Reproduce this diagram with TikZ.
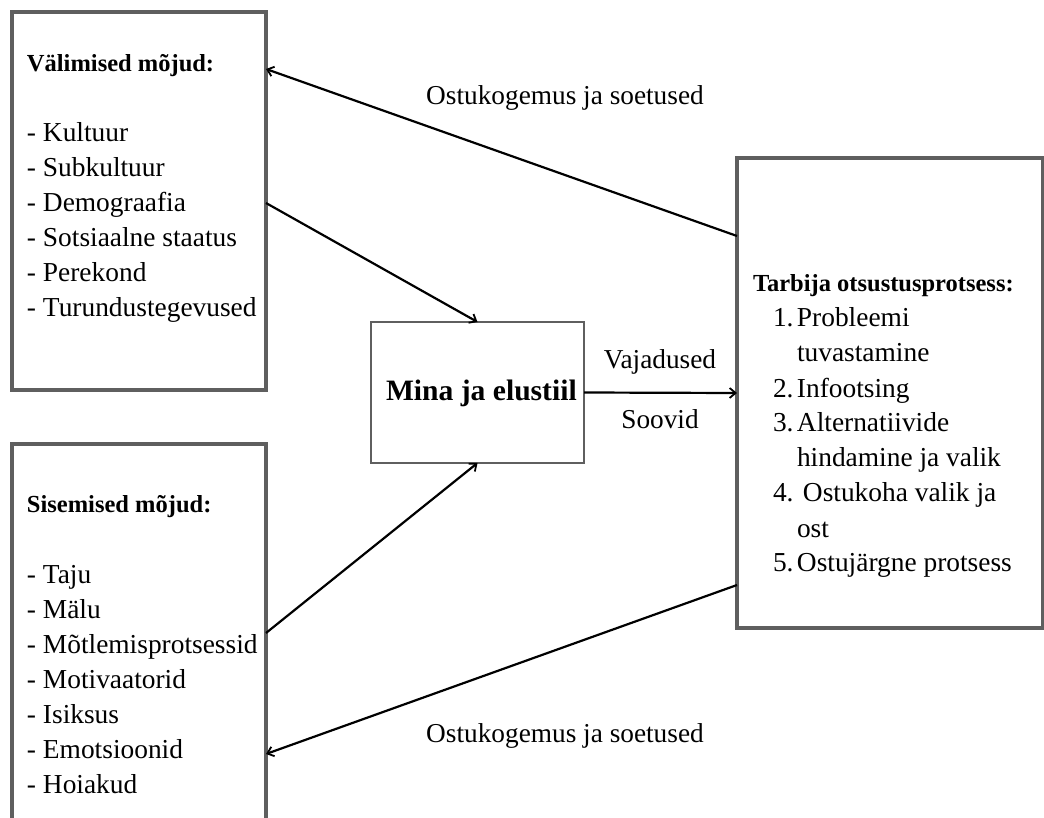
\documentclass[tikz,border=0pt]{standalone}
\usepackage{fontspec}
\setmainfont{Liberation Serif}
\usetikzlibrary{arrows.meta,calc}
\definecolor{boxgray}{RGB}{95,95,95}
\tikzset{
  bigbox/.style={draw=boxgray, line width=3.5pt, fill=white, inner sep=0pt, outer sep=0pt},
  midbox/.style={draw=boxgray, line width=2.2pt, fill=white, inner sep=0pt, outer sep=0pt},
  txt/.style={inner sep=0pt, outer sep=0pt, anchor=base west},
  lbl/.style={inner sep=0pt, outer sep=0pt, anchor=base, font=\fontsize{27.3}{35}\selectfont},
  conn/.style={line width=2.2pt, -{Straight Barb[length=6pt,width=10pt,line width=1.8pt]}}
}
\newcommand{\bodyfont}{\fontsize{27.4}{35}\selectfont}
\newcommand{\headfont}{\bfseries\fontsize{24.5}{35}\selectfont}
\begin{document}
\begin{tikzpicture}[x=1pt,y=-1pt]
\clip (0,0) rectangle (1044,818);
\fill[white] (0,0) rectangle (1044,818);
% boxes
\node[bigbox, minimum width=254pt, minimum height=378pt] (ext) at (139,201) {};
\node[bigbox, minimum width=254pt, minimum height=396pt] (int) at (139,642) {};
\node[midbox, minimum width=213pt, minimum height=141pt] (me) at (477.5,392.5) {};
\node[bigbox, minimum width=306pt, minimum height=470pt] (ri) at (890,393) {};
% texts
\node[txt] (exttxt) at (27,72) {\parbox[t]{240pt}{\bodyfont
  {\headfont Välimised mõjud:}\\[35pt]
  - Kultuur\\
  - Subkultuur\\
  - Demograafia\\
  - Sotsiaalne staatus\\
  - Perekond\\
  - Turundustegevused}};
\node[txt] (inttxt) at (27,512) {\parbox[t]{240pt}{\bodyfont
  {\headfont Sisemised mõjud:}\\[36pt]
  - Taju\\
  - Mälu\\
  - Mõtlemisprotsessid\\
  - Motivaatorid\\
  - Isiksus\\
  - Emotsioonid\\
  - Hoiakud}};
\node[txt] (metxt) at (386,400) {\bfseries\fontsize{29.6}{35}\selectfont Mina ja elustiil};
\node[txt] (ritxt) at (753,292) {\parbox[t]{290pt}{\bodyfont
  {\headfont Tarbija otsustusprotsess:}\\
  \hspace*{20pt}\makebox[24pt][l]{1.}Probleemi\\
  \hspace*{44pt}tuvastamine\\
  \hspace*{20pt}\makebox[24pt][l]{2.}Infootsing\\
  \hspace*{20pt}\makebox[24pt][l]{3.}Alternatiivide\\
  \hspace*{44pt}hindamine ja valik\\
  \hspace*{20pt}\makebox[30pt][l]{4.}Ostukoha valik ja\\
  \hspace*{44pt}ost\\
  \hspace*{20pt}\makebox[24pt][l]{5.}Ostujärgne protsess}};
% connectors
\draw[conn] ([yshift=-78pt]ri.north west) -- ([yshift=-57pt]ext.north east);
\draw[conn] ([yshift=-191pt]ext.north east) -- (me.north);
\draw[conn] ([yshift=-189pt]int.north east) -- (me.south);
\draw[conn] (me.east) -- (ri.west);
\draw[conn] ([yshift=-427pt]ri.north west) -- ([yshift=-310pt]int.north east);
% labels
\node[lbl] (lt) at (565,105) {Ostukogemus ja soetused};
\node[lbl] (lb) at (565,742) {Ostukogemus ja soetused};
\node[lbl] (lv) at (660,368) {Vajadused};
\node[lbl] (ls) at (660,428) {Soovid};
\end{tikzpicture}
\end{document}
